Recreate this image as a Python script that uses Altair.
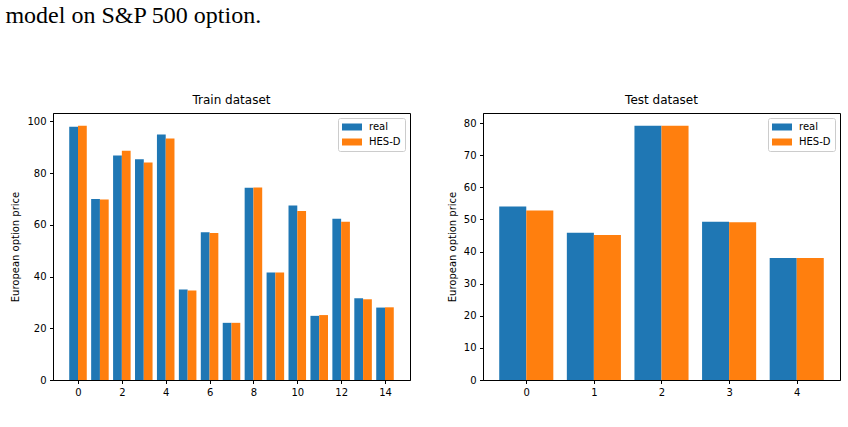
import altair as alt
import pandas as pd

# Option prices: observed ("real") vs. model output ("HES-D")
train_idx = list(range(15))
train_real = [97.9, 70.0, 86.8, 85.3, 94.9, 35.0, 57.1, 22.1, 74.3, 41.6, 67.5, 24.8, 62.3, 31.6, 28.0]
train_hesd = [98.3, 69.8, 88.6, 84.1, 93.4, 34.6, 56.8, 22.1, 74.4, 41.6, 65.3, 25.1, 61.2, 31.2, 28.1]

test_idx = list(range(5))
test_real = [54.0, 45.9, 79.2, 49.3, 38.0]
test_hesd = [52.8, 45.2, 79.2, 49.1, 38.0]

series = ["real", "HES-D"]
colors = ["#1f77b4", "#ff7f0e"]

train_xticks = [0, 2, 4, 6, 8, 10, 12, 14]
train_yticks = [0, 20, 40, 60, 80, 100]
test_xticks = [0, 1, 2, 3, 4]
test_yticks = [0, 10, 20, 30, 40, 50, 60, 70, 80]

caption = "model on S&P 500 option."

FONT = "DejaVu Sans"
BAR_W = 0.4


def long_table(idx, real, model):
    rows = []
    for i, r, m in zip(idx, real, model):
        rows.append({"i": i, "series": "real", "value": r})
        rows.append({"i": i, "series": "HES-D", "value": m})
    return pd.DataFrame(rows)


def panel(idx, real, model, title, xticks, yticks):
    df = long_table(idx, real, model)
    # matplotlib-style 5% margins around the bar extent
    lo, hi = min(idx) - BAR_W, max(idx) + BAR_W
    span = hi - lo
    xdom = [lo - 0.05 * span, hi + 0.05 * span]
    ymax = max(real + model) * 1.05

    return alt.Chart(df).transform_calculate(
        x0=f"datum.i + (datum.series == 'real' ? -{BAR_W} : 0)",
        x1=f"datum.i + (datum.series == 'real' ? 0 : {BAR_W})",
    ).mark_bar(opacity=1, strokeWidth=0).encode(
        x=alt.X("x0:Q",
                scale=alt.Scale(domain=xdom, nice=False, zero=False),
                axis=alt.Axis(values=xticks, title=None, format="d")),
        x2="x1:Q",
        y=alt.Y("value:Q",
                scale=alt.Scale(domain=[0, ymax], nice=False),
                axis=alt.Axis(values=yticks, title="European option price", format="d")),
        y2=alt.datum(0),
        color=alt.Color("series:N",
                        scale=alt.Scale(domain=series, range=colors),
                        sort=series,
                        legend=alt.Legend(
                            title=None,
                            orient="top-right",
                            offset=5,
                            symbolType="M-1,-0.7H3V0.7H-1Z",
                            symbolSize=100,
                            symbolStrokeWidth=0,
                            labelOffset=17,
                            labelFontSize=10,
                            labelFont=FONT,
                            labelColor="#000000",
                            padding=4,
                            rowPadding=5,
                            strokeColor="#cccccc",
                            fillColor="rgba(255,255,255,0.8)",
                            cornerRadius=2,
                        )),
    ).properties(
        width=357, height=267,
        title=alt.TitleParams(title, fontSize=12, font=FONT, fontWeight="normal",
                              color="#000000", offset=6),
    )


left = panel(train_idx, train_real, train_hesd, "Train dataset", train_xticks, train_yticks)
right = panel(test_idx, test_real, test_hesd, "Test dataset", test_xticks, test_yticks)

chart = alt.hconcat(left, right, spacing=73, bounds="flush").resolve_scale(
    color="independent"
).resolve_legend(
    color="independent"
).properties(
    title=alt.TitleParams(caption, anchor="start", font="Liberation Serif", fontSize=24,
                          fontWeight="normal", color="#000000", baseline="alphabetic",
                          offset=47, dx=-5),
    padding={"left": 5, "top": 3, "right": 0, "bottom": 0},
    background="#ffffff",
).configure_view(
    stroke="#000000", strokeWidth=1,
).configure_axis(
    grid=False,
    domainColor="#000000",
    tickColor="#000000",
    tickSize=3.5,
    labelFont=FONT,
    labelFontSize=10,
    labelColor="#000000",
    labelPadding=3.5,
    titleFont=FONT,
    titleFontSize=10,
    titleFontWeight="normal",
    titleColor="#000000",
    titlePadding=6,
)

chart.save("out.html", embed_options={"renderer": "svg", "actions": False})
